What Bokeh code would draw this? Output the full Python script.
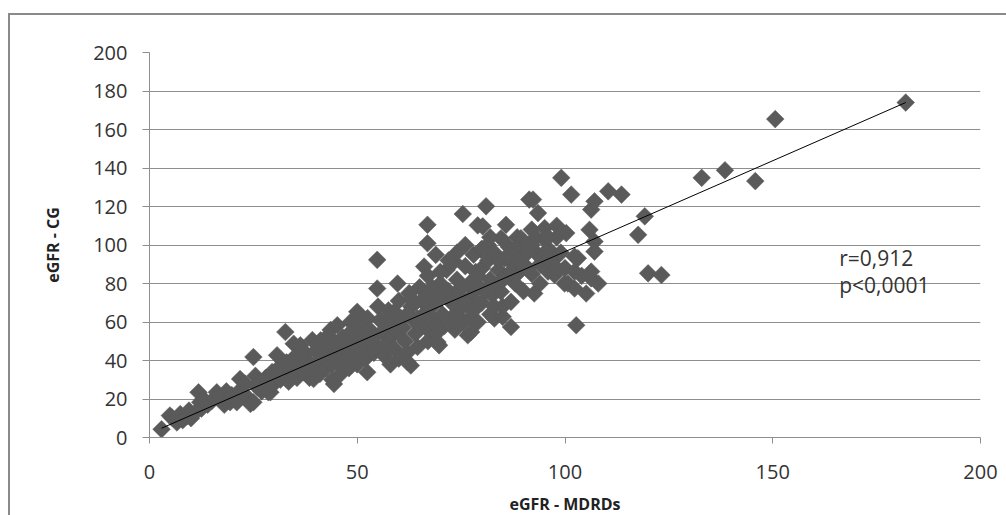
import numpy as np
from bokeh.plotting import figure
from bokeh.models import Range1d, FixedTicker, Label
from bokeh.embed import file_html
from bokeh.resources import INLINE

# eGFR - MDRDs (x) and eGFR - CG (y)
egfr_mdrd = [
    2.9, 4.9, 5.4, 6.6, 7.4, 8, 9, 9.5, 10,
    11, 11.8, 12.2, 12.5, 13, 14, 15, 16.2, 17, 18, 18.5, 19.4, 19.8,
    21, 21.8, 22, 23, 23.5, 24.3, 25, 25, 25.5, 26, 26.5, 27, 28, 28.6, 29.1, 29.5, 30,
    30.7, 31, 31.5, 32, 32.7, 33, 33.5, 34, 34.7, 35, 35.5, 36, 36.3, 37, 37.5, 38, 38.5, 39, 39.2, 39.5, 40,
    40.5, 41, 41.2, 41.5, 42, 42.5, 43, 43.6, 44, 44.4, 44.5, 45, 45.2, 45.5, 46, 46.5, 47, 47.5, 48, 48.4, 48.5, 49, 49.5, 50, 50,
    50.5, 51, 51.5, 52, 52.4, 52.5, 53, 53.5, 54, 54.8, 54.8, 54.8, 55, 55.5, 56, 56.4, 57, 57.5, 58, 58, 58.5, 58.9, 59, 59.7, 59.7, 60, 60,
    60.5, 61, 61.5, 62, 62.1, 62.5, 62.9, 63, 63.5, 64, 64.5, 64.5, 65, 65.5, 66, 66.1, 66.5, 66.9, 66.9, 67, 67, 67.5, 68, 68.5, 68.9, 69, 69.3, 69.7, 70, 70,
    70.5, 71, 71.5, 72, 72.5, 73, 73.3, 73.5, 74, 74.5, 75, 75.4, 75.5, 76, 76.6, 77, 77.4, 77.5, 78, 78, 78.5, 79, 79, 79.5, 79.8, 80, 80,
    80.2, 81, 81.4, 81.5, 82, 82, 82.5, 83, 83, 83.8, 84, 84.6, 84.6, 85, 85, 85.5, 85.8, 86, 86.5, 87, 87, 87.5, 88, 88.5, 89, 89.4, 90, 90,
    90.5, 91, 91.4, 92, 92.3, 92.6, 93, 93.5, 94, 94.3, 95, 95.1, 95.9, 96, 97, 97.5, 98, 99, 99.1, 99.9, 100,
    100.3, 100.7, 101.5, 102.3, 102.3, 102.3, 102.7, 103.1, 104, 105.1, 105.9, 106.3, 106.3, 106.3, 107.1, 107.1, 107.1, 108,
    110.4, 113.6, 117.6, 119.2, 120, 123.2,
    132.9, 138.5, 145.8, 150.6, 182,
    42, 44, 46, 48, 50, 52, 54, 56, 58, 60, 62, 63, 64, 65, 66, 67, 68, 69, 70, 71,
    72, 72, 73, 74, 74, 75, 76, 76, 77, 78, 79, 80, 81, 82, 83, 84, 85, 86, 87, 88,
    89, 90, 91, 92, 92, 93, 94, 96, 96, 98, 98,
]
egfr_cg = [
    4.3, 11.4, 10.4, 7.8, 12.2, 9, 11, 14, 10,
    13, 23.5, 18.3, 15, 20, 17, 19, 23.5, 21, 17, 24, 18.3, 22,
    18.3, 30.4, 25, 28, 21, 17.4, 18.3, 41.8, 32, 26, 29, 24, 31, 23.5, 23.5, 34, 28,
    42.7, 36, 30, 33, 54.8, 39, 29, 35, 48.7, 42, 31, 38, 47.9, 34, 44, 40, 31, 36, 50.6, 30.4, 45,
    39, 33, 50.5, 47, 42, 36, 53, 55.9, 30, 27.8, 49, 44, 58.3, 38, 33, 52, 47, 41, 36, 60, 55, 50, 44, 65.3, 38,
    58, 53, 47, 41, 33.9, 62, 56, 50, 44, 46.1, 92.3, 77.4, 68, 61, 55, 42.7, 49, 66, 59, 38, 53, 65.3, 46, 80, 54.8, 71, 41,
    62, 57, 50, 44, 39.2, 75, 37.4, 68, 61, 54, 61.8, 47, 78, 71, 64, 88.8, 57, 110.5, 100.9, 84, 50, 75, 68, 61, 94.9, 54, 49.6, 47.9, 80, 72,
    64, 58, 87, 76, 70.5, 63, 91.4, 56, 82, 74, 67, 116.1, 60, 89, 53.1, 80, 54.8, 73, 95, 66, 86, 110.2, 60, 78, 97.5, 70, 88,
    109.7, 120.1, 100.1, 92, 82, 64, 74, 61.8, 96, 79.2, 87, 103.5, 75.7, 62.7, 68, 93, 110.5, 84, 99, 57.4, 70.5, 90, 80, 104, 86, 103.5, 95, 76,
    100, 88, 123.6, 108, 123.6, 74.8, 96, 116.6, 90, 93.1, 103, 108.8, 86.2, 98, 92, 84.4, 104, 96, 134.9, 80, 88,
    106.2, 80, 126.2, 94, 77.4, 86.2, 58.3, 93.1, 84, 74.8, 107.9, 118.4, 82.7, 86.2, 101.8, 96.6, 122.7, 80,
    127.9, 126.2, 105.3, 114.9, 85.3, 84.4,
    134.9, 138.8, 133.2, 165.4, 174,
    46, 38, 40, 42, 46, 50, 52, 60, 62, 58, 64, 72, 70, 58, 72, 64, 78, 58, 86, 76,
    92, 60, 70, 96, 62, 78, 100, 70, 62, 76, 84, 98, 76, 104, 68, 92, 82, 94, 86, 98,
    92, 90, 96, 85, 100, 104, 80, 92, 104, 88, 110,
]

# linear trend (slope, intercept)
trend_slope = 0.9446
trend_intercept = 2.08

x_ticks = [0, 50, 100, 150, 200]
y_ticks = [0, 20, 40, 60, 80, 100, 120, 140, 160, 180, 200]
stats_lines = ["r=0,912", "p<0,0001"]

FONT = "Open Sans"
GRID = "#8e8e8e"
MARK = "#5a5a5a"
TXT = "#333333"

p = figure(width=998, height=502, x_range=Range1d(0, 200), y_range=Range1d(0, 200),
           output_backend="svg", toolbar_location=None,
           min_border_left=139, min_border_right=28, min_border_top=37, min_border_bottom=80)
p.styles = {"border-top": "2px solid #8a8a8a", "border-left": "2px solid #8a8a8a",
            "margin-top": "13px", "margin-left": "8px"}
p.outline_line_color = None
p.background_fill_color = "white"
p.border_fill_color = "white"

# grid
p.xgrid.visible = False
p.ygrid.ticker = FixedTicker(ticks=y_ticks)
p.ygrid.grid_line_color = GRID
p.ygrid.grid_line_width = 1

# axes
p.xaxis.ticker = FixedTicker(ticks=x_ticks)
p.yaxis.ticker = FixedTicker(ticks=y_ticks)
for ax in (p.xaxis[0], p.yaxis[0]):
    ax.axis_line_color = GRID
    ax.major_tick_line_color = GRID
    ax.minor_tick_line_color = None
    ax.major_tick_in = 0
    ax.major_label_text_font = FONT
    ax.major_label_text_font_size = "20px"
    ax.major_label_text_color = TXT
    ax.axis_label_text_font = FONT
    ax.axis_label_text_font_style = "bold"
    ax.axis_label_text_font_size = "16px"
    ax.axis_label_text_color = "#222222"
p.yaxis.major_tick_out = 7
p.xaxis.major_tick_out = 6
p.yaxis.major_label_standoff = 15
p.xaxis.major_label_standoff = 21
p.xaxis.axis_label = "eGFR - MDRDs"
p.yaxis.axis_label = "eGFR - CG"
p.xaxis.axis_label_standoff = 11
p.yaxis.axis_label_standoff = 26

# points
p.scatter(egfr_mdrd, egfr_cg, marker="square", angle=np.pi / 4, size=12.5,
          fill_color=MARK, line_color=MARK, line_width=0.5)

# trend line
tx = np.array([min(egfr_mdrd), max(egfr_mdrd)])
p.line(tx, trend_slope * tx + trend_intercept, line_color="black", line_width=1)

# stats text
p.add_layout(Label(x=166, y=93, text=stats_lines[0], text_font=FONT, text_font_size="21px",
                   text_color=TXT, text_baseline="alphabetic"))
p.add_layout(Label(x=166, y=79, text=stats_lines[1], text_font=FONT, text_font_size="21px",
                   text_color=TXT, text_baseline="alphabetic"))

open("out.html", "w").write(file_html(p, INLINE))
